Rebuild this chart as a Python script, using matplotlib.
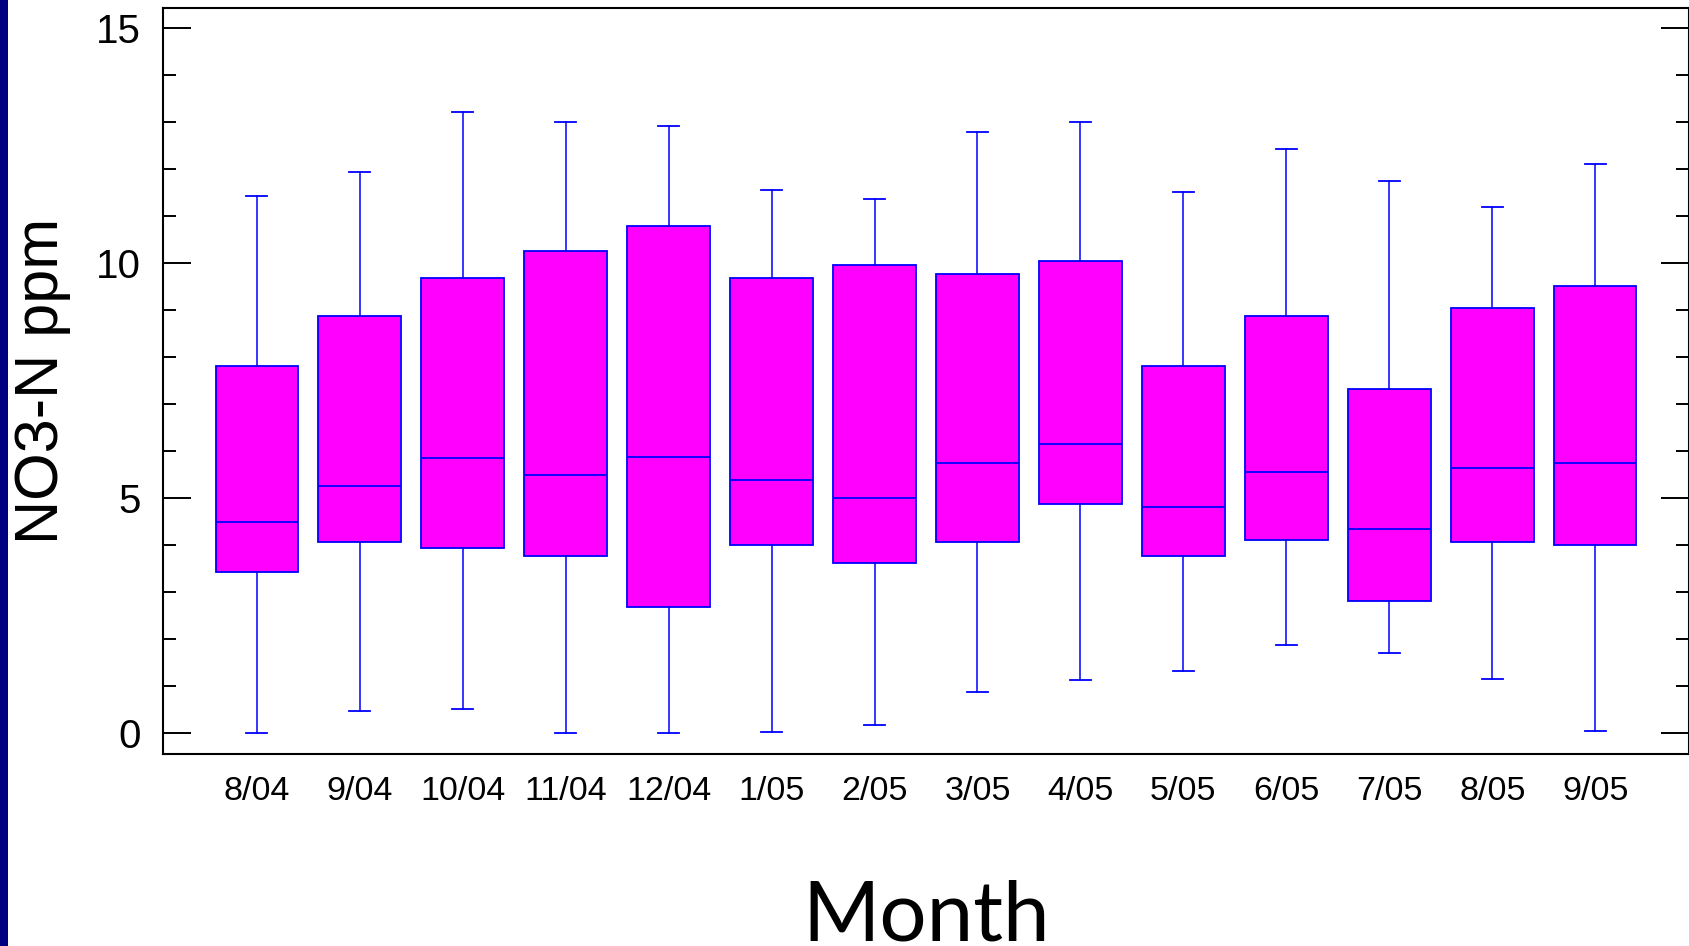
import matplotlib; matplotlib.use("Agg")
import matplotlib.pyplot as plt
from matplotlib.patches import Rectangle
from matplotlib.ticker import MultipleLocator

months = ["8/04", "9/04", "10/04", "11/04", "12/04", "1/05", "2/05",
          "3/05", "4/05", "5/05", "6/05", "7/05", "8/05", "9/05"]
whislo = [0.00, 0.46, 0.51, 0.00, 0.00, 0.02, 0.18, 0.87, 1.13, 1.33, 1.88, 1.70, 1.15, 0.05]
q1     = [3.42, 4.07, 3.93, 3.77, 2.69, 4.00, 3.61, 4.07, 4.87, 3.77, 4.11, 2.80, 4.07, 4.00]
med    = [4.50, 5.26, 5.86, 5.49, 5.88, 5.38, 5.01, 5.74, 6.16, 4.80, 5.56, 4.34, 5.63, 5.74]
q3     = [7.81, 8.87, 9.69, 10.25, 10.80, 9.69, 9.95, 9.76, 10.04, 7.81, 8.87, 7.33, 9.05, 9.51]
whishi = [11.42, 11.95, 13.21, 13.00, 12.91, 11.56, 11.37, 12.80, 13.00, 11.51, 12.43, 11.74, 11.19, 12.11]

BLUE = "#0000FF"; MAG = "#FF00FF"

fig = plt.figure(figsize=(16.9, 9.46), dpi=100)
fig.patch.set_facecolor("white")
# navy strip on the left edge of the slide
fig.patches.append(Rectangle((0, 0), 8 / 1690, 1, transform=fig.transFigure,
                             facecolor="#000080", edgecolor="none", zorder=0))

ax = fig.add_axes([163 / 1690, 1 - 754 / 946, 1526 / 1690, 746 / 946])

stats = [dict(label=m, whislo=a, q1=b, med=c, q3=d, whishi=e)
         for m, a, b, c, d, e in zip(months, whislo, q1, med, q3, whishi)]
pos = list(range(1, len(months) + 1))
ax.bxp(stats, positions=pos, widths=0.8, capwidths=0.2, patch_artist=True,
       showfliers=False,
       boxprops=dict(facecolor=MAG, edgecolor=BLUE, linewidth=1.3),
       medianprops=dict(color=BLUE, linewidth=1.3),
       whiskerprops=dict(color=BLUE, linewidth=1.1),
       capprops=dict(color=BLUE, linewidth=1.3))

ax.set_xlim(0.09, 14.91)
ax.set_ylim(-0.447, 15.43)
ax.set_xticks(pos)
ax.set_xticklabels(months, family="Liberation Sans", fontsize=24.5)
ax.set_yticks([0, 5, 10, 15])
ax.yaxis.set_minor_locator(MultipleLocator(1))
ax.tick_params(axis="x", length=0, pad=16)
ax.tick_params(axis="y", which="major", direction="in", length=20, width=1.4,
               right=True, labelsize=29, pad=16)
ax.tick_params(axis="y", which="minor", direction="in", length=9.5, width=1.4, right=True)
for t in ax.get_yticklabels():
    t.set_family("Liberation Sans")
for s in ax.spines.values():
    s.set_linewidth(1.5)

ax.set_ylabel("NO3-N ppm", family="Liberation Sans", fontsize=44, va="center")
ax.yaxis.set_label_coords(-0.079, 0.5)
ax.set_xlabel("Month", family="Lato", fontsize=60, va="baseline")
ax.xaxis.set_label_coords(0.5, -0.250)

fig.savefig("out.png", dpi=100, facecolor="white")
